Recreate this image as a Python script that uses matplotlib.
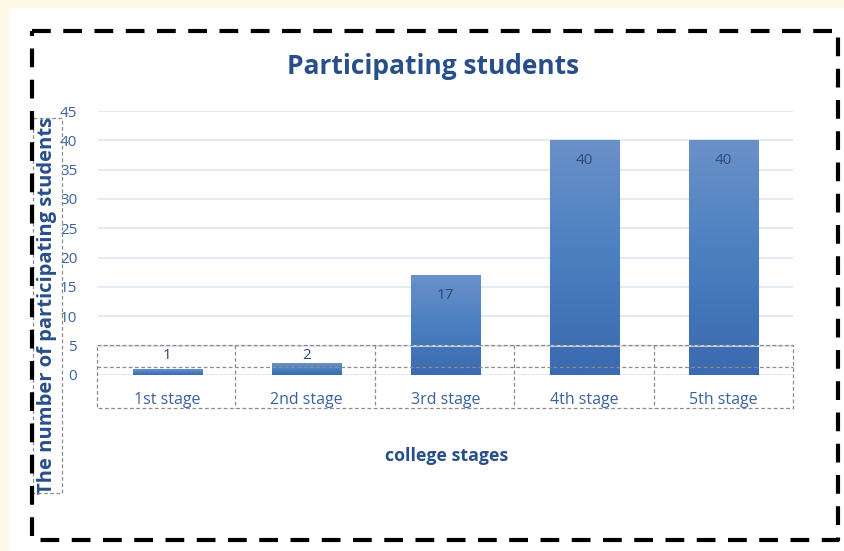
import numpy as np
import matplotlib
matplotlib.use("Agg")
import matplotlib.pyplot as plt
from matplotlib.lines import Line2D
from matplotlib.patches import Rectangle
from matplotlib.colors import LinearSegmentedColormap

# ---------- data ----------
stages = ["1st stage", "2nd stage", "3rd stage", "4th stage", "5th stage"]
students = [1, 2, 17, 40, 40]
y_ticks = [0, 5, 10, 15, 20, 25, 30, 35, 40, 45]

# ---------- style ----------
W, H = 844, 551
FONT = ["Open Sans", "DejaVu Sans"]
DARK_BLUE = "#284F8A"
TICK_BLUE = "#3A62A0"
GRID = "#DCE6F4"
TABLE = "#8C8C8C"

plt.rcParams["font.family"] = FONT

fig = plt.figure(figsize=(W / 100, H / 100), dpi=100)
fig.patch.set_facecolor("#FEF9E6")

def fx(px):
    return px / W

def fy(py):
    return 1 - py / H

# white page behind the chart
fig.patches.append(Rectangle((fx(9), 0), 1 - fx(9), fy(8), transform=fig.transFigure,
                             facecolor="white", edgecolor="none", zorder=-5))

# ---------- axes ----------
left, right, top, bottom = 98, 793, 111, 375
ax = fig.add_axes([fx(left), fy(bottom), fx(right - left), fy(top) - fy(bottom)])
ax.set_facecolor("none")
for s in ax.spines.values():
    s.set_visible(False)
ax.set_yticks(y_ticks)
ax.set_yticklabels([str(t) for t in y_ticks], color=TICK_BLUE, fontsize=11)
ax.tick_params(axis="y", length=0, pad=15)
ax.set_xticks([])
for t in y_ticks:
    ax.axhline(t, color=GRID, lw=1.2, zorder=1)

# gradient bars
cmap = LinearSegmentedColormap.from_list("bar", ["#3A6AAF", "#4A7FC0", "#6B91C9"])
grad = np.linspace(0, 1, 256).reshape(-1, 1)
bars = ax.bar(range(len(stages)), students, width=0.5, color="none", edgecolor="none", zorder=2)
for b in bars:
    x0, w, h = b.get_x(), b.get_width(), b.get_height()
    im = ax.imshow(grad, cmap=cmap, origin="lower", aspect="auto",
                   extent=(x0, x0 + w, 0, h), zorder=2)
    im.set_clip_path(b)
    b.set_edgecolor("#C9D6EC")
    b.set_linewidth(0.8)
ax.set_xlim(-0.5, len(stages) - 0.5)
ax.set_ylim(0, 45)
ax.axhline(5, color=GRID, lw=1.2, zorder=3)

# value labels
for i, v in enumerate(students):
    if v >= 10:
        ax.text(i, v - 3.5, str(v), ha="center", va="center", fontsize=11, color="#2E4A78", zorder=4)
    else:
        ax.text(i, 3.3, str(v), ha="center", va="center", fontsize=11, color="#2E4A78", zorder=4)

# category labels
for i, name in enumerate(stages):
    ax.text(i, -4.3, name, ha="center", va="center", fontsize=11.5, color=TICK_BLUE, clip_on=False)

# ---------- dashed table grid under the axis ----------
def fig_line(xs, ys, **kw):
    fig.add_artist(Line2D([fx(x) for x in xs], [fy(y) for y in ys],
                          transform=fig.transFigure, **kw))

tkw = dict(color=TABLE, lw=0.9, ls=(0, (3, 2)), zorder=5)
fig_line([97, 793, 793, 97, 97], [345, 345, 408, 408, 345], **tkw)
fig_line([97, 793], [367, 367], **tkw)
for xb in [235, 375, 514, 654]:
    fig_line([xb, xb], [345, 408], **tkw)

# y-label box
fig_line([33, 62, 62, 33, 33], [118, 118, 493, 493, 118], **tkw)

# ---------- titles ----------
fig.text(fx(433), fy(66), "Participating students", ha="center", va="center",
         fontsize=19, fontweight="bold", color=DARK_BLUE)
fig.text(fx(447), fy(456), "college stages", ha="center", va="center",
         fontsize=12.8, fontweight="bold", color=DARK_BLUE)
fig.text(fx(47), fy(305), "The number of participating students", ha="center", va="center",
         rotation=90, fontsize=14.5, fontweight="bold", color=DARK_BLUE)

# ---------- outer dashed frame ----------
fig_line([32, 838, 838, 32, 32], [31, 31, 540, 540, 31],
         color="black", lw=3, ls=(0, (4.5, 3)), zorder=6)

fig.savefig("out.png", dpi=100, facecolor=fig.get_facecolor())
